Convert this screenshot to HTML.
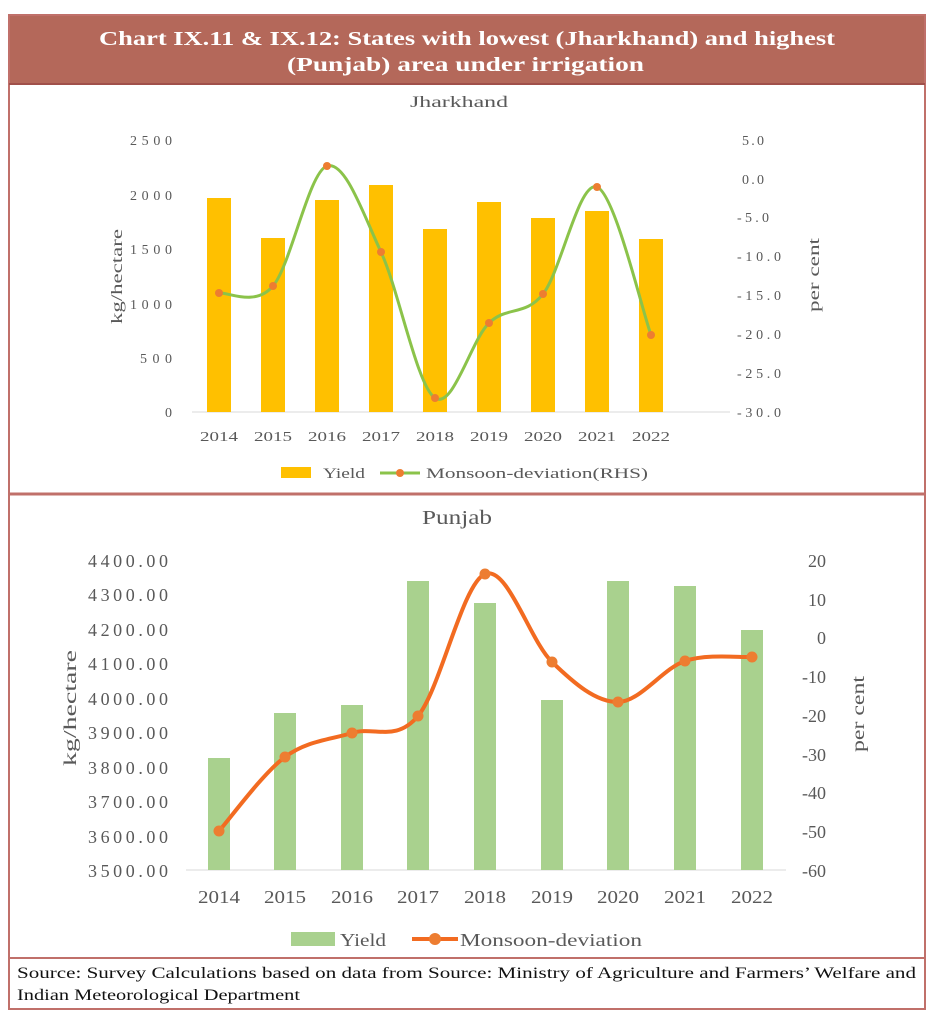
<!DOCTYPE html>
<html><head><meta charset="utf-8"><style>
body{margin:0;background:#fff;}
svg{display:block;font-family:"Liberation Serif",serif;}
</style></head><body>
<svg id="s" width="934" height="1024" xmlns="http://www.w3.org/2000/svg">
<rect x="0" y="0" width="934" height="1024" fill="#fff"/>
<rect x="9" y="15" width="916" height="994" fill="#fff" stroke="#c0706a" stroke-width="2"/>
<rect x="10" y="16" width="914" height="68" fill="#b4685a"/>
<line x1="9" y1="84" x2="925" y2="84" stroke="#a0504a" stroke-width="2"/>
<text x="99" y="45" textLength="736" lengthAdjust="spacingAndGlyphs" font-size="20" font-weight="bold" fill="#fff">Chart IX.11 &amp; IX.12: States with lowest (Jharkhand) and highest</text>
<text x="287" y="71" textLength="357" lengthAdjust="spacingAndGlyphs" font-size="20" font-weight="bold" fill="#fff">(Punjab) area under irrigation</text>
<line x1="9" y1="494" x2="925" y2="494" stroke="#c0706a" stroke-width="3"/>
<line x1="9" y1="958" x2="925" y2="958" stroke="#c0706a" stroke-width="2"/>
<text x="17" y="978" textLength="899" lengthAdjust="spacingAndGlyphs" font-size="15.5" fill="#111">Source: Survey Calculations based on data from Source: Ministry of Agriculture and Farmers’ Welfare and</text>
<text x="17" y="1000" textLength="283" lengthAdjust="spacingAndGlyphs" font-size="15.5" fill="#111">Indian Meteorological Department</text>

<!-- Jharkhand -->
<text x="410" y="107" textLength="98" lengthAdjust="spacingAndGlyphs" font-size="16" fill="#595959">Jharkhand</text>
<g font-size="14" fill="#595959" text-anchor="end" lengthAdjust="spacingAndGlyphs">
<text x="172" y="145" textLength="42">2500</text><text x="172" y="200" textLength="42">2000</text><text x="172" y="254" textLength="42">1500</text><text x="172" y="309" textLength="42">1000</text><text x="172" y="363" textLength="32">500</text><text x="172" y="417">0</text>
</g>
<g font-size="14" fill="#595959" text-anchor="start">
<text x="742" y="145" textLength="22">5.0</text><text x="742" y="184" textLength="22">0.0</text><text x="737" y="222" textLength="32">-5.0</text><text x="737" y="261" textLength="44">-10.0</text><text x="737" y="300" textLength="44">-15.0</text><text x="737" y="339" textLength="44">-20.0</text><text x="737" y="378" textLength="44">-25.0</text><text x="737" y="417" textLength="44">-30.0</text>
</g>
<text transform="translate(122,277) rotate(-90)" x="-47" textLength="95" lengthAdjust="spacingAndGlyphs" font-size="16" fill="#595959">kg/hectare</text>
<text transform="translate(819,275) rotate(-90)" x="-37" textLength="74" lengthAdjust="spacingAndGlyphs" font-size="16" fill="#595959">per cent</text>
<line x1="192" y1="412" x2="730" y2="412" stroke="#d9d9d9"/>
<g id="jb" fill="#ffc000"></g>
<g font-size="14" fill="#595959" id="jx"></g>
<path id="jl" fill="none" stroke="#8bc34a" stroke-width="3"/>
<g id="jm" fill="#ed7d31"></g>
<rect x="281" y="467" width="30" height="11" fill="#ffc000"/>
<text x="323" y="478" textLength="42" lengthAdjust="spacingAndGlyphs" font-size="14.5" fill="#595959">Yield</text>
<line x1="380" y1="473" x2="420" y2="473" stroke="#8bc34a" stroke-width="3"/>
<circle cx="400" cy="473" r="4" fill="#ed7d31"/>
<text x="426" y="478" textLength="222" lengthAdjust="spacingAndGlyphs" font-size="14.5" fill="#595959">Monsoon-deviation(RHS)</text>

<!-- Punjab -->
<text x="422" y="524" textLength="70" lengthAdjust="spacingAndGlyphs" font-size="20" fill="#595959">Punjab</text>
<g font-size="18" fill="#595959" text-anchor="end">
<text x="168" y="567" textLength="80">4400.00</text><text x="168" y="601" textLength="80">4300.00</text><text x="168" y="636" textLength="80">4200.00</text><text x="168" y="670" textLength="80">4100.00</text><text x="168" y="705" textLength="80">4000.00</text><text x="168" y="739" textLength="80">3900.00</text><text x="168" y="774" textLength="80">3800.00</text><text x="168" y="808" textLength="80">3700.00</text><text x="168" y="843" textLength="80">3600.00</text><text x="168" y="877" textLength="80">3500.00</text>
</g>
<g font-size="18" fill="#595959" text-anchor="end">
<text x="826" y="567">20</text><text x="826" y="606">10</text><text x="826" y="644">0</text><text x="826" y="683">-10</text><text x="826" y="722">-20</text><text x="826" y="761">-30</text><text x="826" y="799">-40</text><text x="826" y="838">-50</text><text x="826" y="877">-60</text>
</g>
<text transform="translate(76,708) rotate(-90)" x="-58" textLength="116" lengthAdjust="spacingAndGlyphs" font-size="18" fill="#595959">kg/hectare</text>
<text transform="translate(864,714) rotate(-90)" x="-38" textLength="76" lengthAdjust="spacingAndGlyphs" font-size="18" fill="#595959">per cent</text>
<line x1="186" y1="870" x2="786" y2="870" stroke="#d9d9d9"/>
<g id="pb" fill="#a9d18e"></g>
<g font-size="18" fill="#595959" id="px"></g>
<path id="pl" fill="none" stroke="#f26b21" stroke-width="4"/>
<g id="pm" fill="#ed7d31"></g>
<rect x="291" y="932" width="44" height="14" fill="#a9d18e"/>
<text x="340" y="946" textLength="46" lengthAdjust="spacingAndGlyphs" font-size="18" fill="#595959">Yield</text>
<line x1="412" y1="939" x2="458" y2="939" stroke="#f26b21" stroke-width="4"/>
<circle cx="435" cy="939" r="6" fill="#ed7d31"/>
<text x="460" y="946" textLength="182" lengthAdjust="spacingAndGlyphs" font-size="18" fill="#595959">Monsoon-deviation</text>
</svg>
<script>
var NS="http://www.w3.org/2000/svg";
function el(p,t,a,txt){var e=document.createElementNS(NS,t);for(var k in a)e.setAttribute(k,a[k]);if(txt)e.textContent=txt;document.getElementById(p).appendChild(e);}
function cr(pts){var d="M"+pts[0][0]+","+pts[0][1];for(var i=0;i<pts.length-1;i++){var p0=pts[i?i-1:0],p1=pts[i],p2=pts[i+1],p3=pts[i+2<pts.length?i+2:i+1];d+=" C"+(p1[0]+(p2[0]-p0[0])/6)+","+(p1[1]+(p2[1]-p0[1])/6)+" "+(p2[0]-(p3[0]-p1[0])/6)+","+(p2[1]-(p3[1]-p1[1])/6)+" "+p2[0]+","+p2[1];}return d;}
var yrs=[2014,2015,2016,2017,2018,2019,2020,2021,2022];
var jx=[219,273,327,381,435,489,543,597,651],jt=[198,238,200,185,229,202,218,211,239],jy=[293,286,166,252,398,323,294,187,335];
var px=[219,285,352,418,485,552,618,685,752],pt=[758,713,705,581,603,700,581,586,630],py=[831,757,733,716,574,662,702,661,657];
var jp=[],pp=[];
for(var i=0;i<9;i++){
el("jb","rect",{x:jx[i]-12,y:jt[i],width:24,height:412-jt[i]});
el("jx","text",{x:jx[i]-19,y:441,textLength:38,lengthAdjust:"spacingAndGlyphs"},yrs[i]);
el("jm","circle",{cx:jx[i],cy:jy[i],r:4});
jp.push([jx[i],jy[i]]);
el("pb","rect",{x:px[i]-11,y:pt[i],width:22,height:870-pt[i]});
el("px","text",{x:px[i]-21,y:903,textLength:42,lengthAdjust:"spacingAndGlyphs"},yrs[i]);
el("pm","circle",{cx:px[i],cy:py[i],r:5.5});
pp.push([px[i],py[i]]);
}
document.getElementById("jl").setAttribute("d",cr(jp));
document.getElementById("pl").setAttribute("d",cr(pp));
</script>
</body></html>
